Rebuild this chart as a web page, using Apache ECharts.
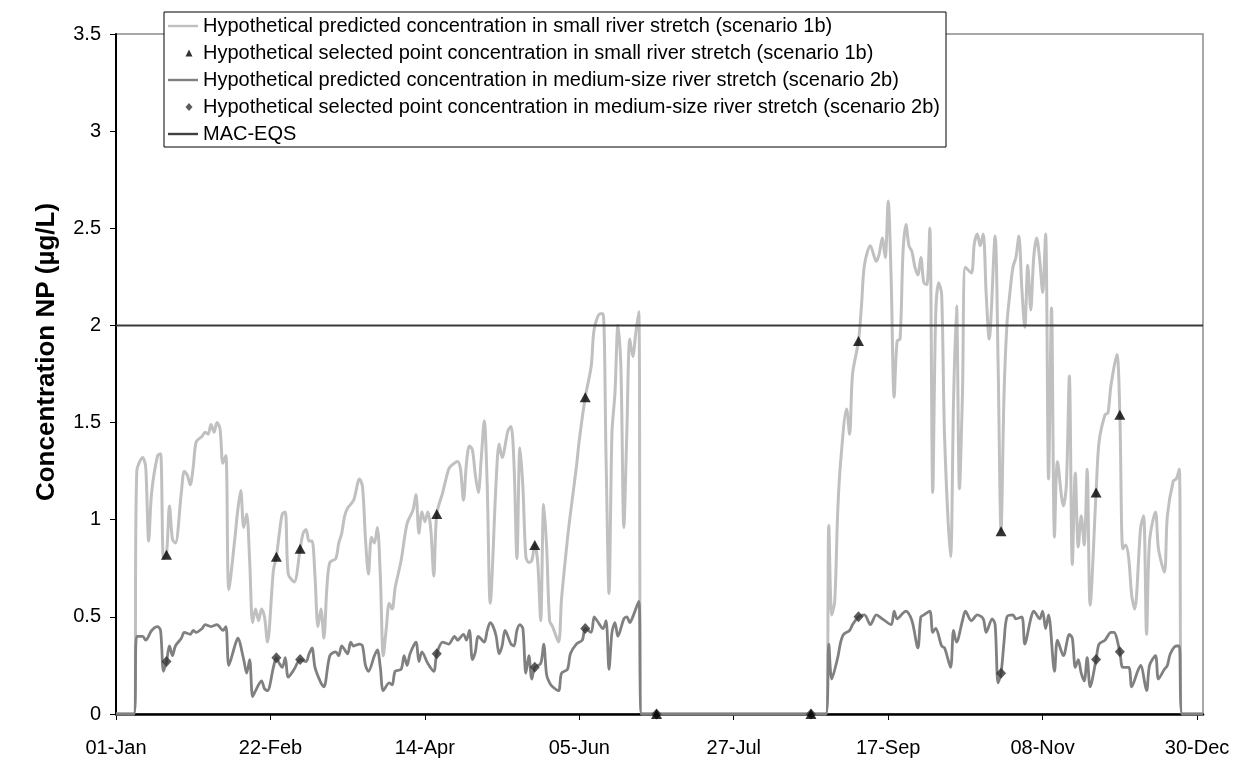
<!DOCTYPE html>
<html>
<head>
<meta charset="utf-8">
<script src="https://cdn.jsdelivr.net/npm/echarts@6.0.0/dist/echarts.min.js"></script>
<style>
  html, body { margin: 0; padding: 0; background: #fff; }
  #chart { width: 1246px; height: 763px; }
</style>
</head>
<body>
<div id="chart"></div>
<script>
// x = day of year (0 = 01-Jan)
const tickDays = [0, 52, 104, 156, 208, 260, 312, 364]
const tickLabels = ['01-Jan', '22-Feb', '14-Apr', '05-Jun', '27-Jul', '17-Sep', '08-Nov', '30-Dec']

// small river stretch (scenario 1b)
const smallDays = [0, 6, 7, 9, 10, 11, 12, 14, 15, 16, 17, 18, 19, 20, 22, 23, 24, 25, 26, 27, 29, 30, 31, 32, 33, 34, 35, 36, 37, 38,
  40, 41, 42, 43, 44, 45, 46, 47, 48, 49, 50, 51, 53, 54, 55, 56, 57, 58, 60, 62, 63, 64, 65, 66, 67, 68, 69, 70, 71, 72,
  74, 75, 76, 77, 78, 80, 82, 83, 84, 85, 86, 87, 88, 89, 90, 91, 92, 93, 94, 96, 98, 100, 101, 102, 103, 104, 105, 106, 107, 108,
  110, 112, 113, 115, 116, 117, 118, 119, 120, 121, 122, 123, 124, 125, 126, 128, 129, 130, 132, 133, 134, 135, 136, 137, 138, 139, 140, 141, 142, 143,
  144, 145, 146, 147, 149, 150, 152, 153, 155, 156, 158, 160, 161, 163, 164, 165, 166, 167, 168, 169, 170, 171, 172, 173, 174, 175, 176, 177, 239, 240,
  241, 242, 243, 244, 246, 247, 248, 250, 251, 252, 254, 256, 257, 258, 259, 260, 261, 262, 263, 264, 265, 266, 267, 268, 269, 270, 271, 272, 273, 274,
  275, 276, 277, 278, 279, 281, 282, 283, 284, 285, 286, 288, 289, 290, 291, 292, 293, 294, 296, 297, 298, 299, 300, 301, 302, 303, 304, 305, 306, 307,
  308, 309, 310, 311, 312, 313, 314, 315, 316, 317, 319, 320, 321, 322, 323, 324, 325, 326, 327, 328, 330, 331, 333, 334, 335, 337, 338, 339, 340, 341,
  342, 343, 345, 346, 347, 348, 350, 351, 353, 354, 356, 357, 358, 359, 366]
const smallConc = [0, 0, 1.25, 1.32, 1.27, 0.89, 1.14, 1.33, 1.34, 0.80, 0.82, 1.07, 0.90, 0.88, 1.14, 1.25, 1.23, 1.18, 1.27, 1.40, 1.43, 1.45, 1.44, 1.49, 1.45, 1.50, 1.47, 1.29, 1.33, 0.64,
  0.90, 1.05, 1.15, 0.96, 1.03, 0.79, 0.47, 0.54, 0.48, 0.54, 0.50, 0.37, 0.74, 0.81, 0.93, 1.03, 1.04, 0.72, 0.68, 0.85, 0.93, 0.95, 0.89, 0.89, 0.71, 0.45, 0.54, 0.39, 0.65, 0.78,
  0.80, 0.88, 0.93, 1.02, 1.06, 1.10, 1.21, 1.17, 0.90, 0.72, 0.91, 0.88, 0.96, 0.71, 0.30, 0.44, 0.57, 0.54, 0.65, 0.79, 0.98, 1.05, 1.13, 0.93, 1.04, 0.99, 1.04, 0.95, 0.71, 1.03,
  1.14, 1.26, 1.28, 1.30, 1.26, 1.10, 1.29, 1.38, 1.36, 1.23, 1.14, 1.32, 1.51, 1.17, 0.57, 1.20, 1.39, 1.32, 1.46, 1.48, 1.29, 0.80, 1.37, 1.17, 0.81, 0.78, 0.79, 0.87, 0.78, 0.48,
  1.08, 0.86, 0.48, 0.45, 0.37, 0.59, 0.90, 1.03, 1.27, 1.41, 1.63, 1.79, 1.98, 2.06, 2.06, 1.32, 0.62, 1.45, 1.65, 2.00, 1.79, 0.96, 1.45, 1.93, 1.84, 1.96, 2.07, 0, 0, 0.97,
  0.51, 0.58, 1.04, 1.30, 1.57, 1.44, 1.75, 1.92, 2.10, 2.31, 2.41, 2.33, 2.37, 2.45, 2.35, 2.64, 2.24, 1.63, 1.92, 1.93, 2.38, 2.52, 2.41, 2.38, 2.30, 2.26, 2.35, 2.22, 2.21, 2.50,
  1.14, 2.06, 2.22, 2.16, 1.42, 0.81, 1.61, 2.10, 1.16, 1.64, 2.30, 2.27, 2.42, 2.47, 2.41, 2.47, 2.16, 1.93, 2.46, 1.81, 0.94, 1.64, 2.01, 2.17, 2.30, 2.35, 2.46, 2.19, 1.99, 2.31,
  2.08, 2.35, 2.45, 2.34, 2.17, 2.47, 1.21, 2.09, 0.91, 1.30, 1.07, 1.18, 1.74, 0.77, 1.24, 0.86, 1.02, 0.87, 1.26, 0.56, 1.14, 1.40, 1.54, 1.55, 1.69, 1.85, 1.54, 0.85, 0.87, 0.80,
  0.61, 0.54, 0.96, 1.02, 0.41, 0.89, 1.04, 0.85, 0.73, 1.02, 1.20, 1.21, 1.26, 0, 0]

// medium-size river stretch (scenario 2b)
const mediumDays = [0, 6, 7, 9, 10, 12, 14, 15, 16, 17, 18, 19, 20, 22, 23, 25, 26, 27, 29, 30, 32, 34, 36, 37, 38, 40, 41, 43, 44, 45,
  46, 47, 49, 50, 51, 53, 54, 55, 56, 57, 58, 60, 62, 64, 65, 66, 67, 69, 70, 72, 74, 75, 76, 78, 79, 80, 82, 83, 84, 85,
  87, 88, 89, 90, 92, 93, 94, 96, 97, 98, 99, 101, 102, 103, 105, 107, 108, 110, 112, 114, 115, 117, 118, 119, 120, 121, 122, 124, 125, 126,
  127, 128, 129, 130, 131, 133, 134, 135, 136, 137, 138, 139, 140, 141, 143, 144, 145, 146, 147, 149, 150, 152, 153, 155, 157, 158, 160, 161, 162, 164,
  165, 166, 167, 168, 169, 171, 172, 173, 174, 176, 177, 239, 240, 241, 243, 244, 245, 247, 248, 250, 252, 254, 256, 258, 261, 262, 263, 265, 266, 268,
  270, 271, 272, 274, 275, 276, 278, 279, 281, 282, 283, 285, 286, 288, 290, 292, 293, 295, 296, 297, 298, 299, 300, 302, 303, 305, 306, 308, 309, 311,
  312, 313, 314, 316, 317, 319, 321, 322, 323, 324, 325, 326, 327, 328, 330, 331, 333, 335, 336, 338, 339, 341, 342, 344, 345, 347, 348, 350, 351, 353,
  354, 355, 357, 358, 359, 366]
const mediumConc = [0, 0, 0.40, 0.40, 0.38, 0.43, 0.45, 0.43, 0.22, 0.27, 0.35, 0.30, 0.35, 0.39, 0.42, 0.41, 0.43, 0.42, 0.44, 0.46, 0.45, 0.46, 0.43, 0.45, 0.25, 0.35, 0.39, 0.28, 0.21, 0.28,
  0.09, 0.12, 0.17, 0.13, 0.12, 0.24, 0.29, 0.26, 0.24, 0.29, 0.19, 0.23, 0.28, 0.27, 0.31, 0.34, 0.24, 0.16, 0.14, 0.30, 0.32, 0.30, 0.35, 0.31, 0.37, 0.35, 0.36, 0.35, 0.25, 0.22,
  0.30, 0.33, 0.24, 0.12, 0.16, 0.15, 0.22, 0.23, 0.30, 0.25, 0.31, 0.37, 0.27, 0.32, 0.26, 0.22, 0.31, 0.37, 0.36, 0.40, 0.38, 0.41, 0.38, 0.43, 0.28, 0.32, 0.40, 0.37, 0.43, 0.47,
  0.45, 0.40, 0.31, 0.35, 0.43, 0.36, 0.35, 0.43, 0.46, 0.44, 0.21, 0.30, 0.18, 0.24, 0.26, 0.36, 0.20, 0.16, 0.14, 0.12, 0.21, 0.23, 0.31, 0.36, 0.38, 0.44, 0.42, 0.50, 0.48, 0.44,
  0.48, 0.23, 0.42, 0.47, 0.40, 0.49, 0.50, 0.47, 0.50, 0.58, 0, 0, 0.36, 0.18, 0.29, 0.37, 0.41, 0.43, 0.46, 0.50, 0.51, 0.46, 0.51, 0.49, 0.46, 0.53, 0.49, 0.52, 0.53, 0.48,
  0.34, 0.50, 0.51, 0.53, 0.42, 0.44, 0.35, 0.34, 0.24, 0.43, 0.37, 0.48, 0.53, 0.48, 0.51, 0.49, 0.42, 0.49, 0.46, 0.16, 0.21, 0.37, 0.50, 0.51, 0.49, 0.50, 0.36, 0.49, 0.53, 0.49,
  0.53, 0.44, 0.51, 0.22, 0.38, 0.30, 0.41, 0.39, 0.24, 0.28, 0.21, 0.17, 0.29, 0.14, 0.28, 0.36, 0.38, 0.42, 0.42, 0.32, 0.24, 0.24, 0.14, 0.22, 0.25, 0.12, 0.25, 0.30, 0.18, 0.23,
  0.25, 0.31, 0.35, 0.35, 0, 0]

// selected points
const pointDays = [17, 54, 62, 108, 141, 158, 182, 234, 250, 298, 330, 338]
const smallPoints = [0.82, 0.81, 0.85, 1.03, 0.87, 1.63, 0, 0, 1.92, 0.94, 1.14, 1.54]
const mediumPoints = [0.27, 0.29, 0.28, 0.31, 0.24, 0.44, 0, 0, 0.50, 0.21, 0.28, 0.32]

const macEqs = 2

const names = [
  'Hypothetical predicted concentration in small river stretch (scenario 1b)',
  'Hypothetical selected point concentration in small river stretch (scenario 1b)',
  'Hypothetical predicted concentration in medium-size river stretch (scenario 2b)',
  'Hypothetical selected point concentration in medium-size river stretch (scenario 2b)',
  'MAC-EQS'
]

const pairs = (xs, ys) => xs.map((x, i) => [x, ys[i]])

const fontFamily = 'Liberation Sans, Arial, sans-serif'
// legend icons, drawn in a 30x18 box
const lineIcon = 'path://M0,0 M30,18 M0,7.8 L30,7.8 L30,10.2 L0,10.2 Z'
const triangleIcon = 'path://M0,0 M30,18 M17.5,12.5 L21,5.5 L24.5,12.5 Z'
const diamondIcon = 'path://M0,0 M30,18 M21,5 L24.5,9 L21,13 L17.5,9 Z'

const option = {
  animation: false,
  backgroundColor: '#fff',
  textStyle: { fontFamily: fontFamily },
  grid: {
    left: 116,
    right: 43,
    top: 34,
    bottom: 49,
    show: true,
    borderColor: '#8c8c8c',
    borderWidth: 1.5,
    outerBoundsMode: 'none'
  },
  legend: {
    orient: 'vertical',
    left: 164,
    top: 12,
    selectedMode: false,
    itemWidth: 30,
    itemHeight: 18,
    itemGap: 7,
    padding: [4, 6, 3, 4],
    borderColor: '#000',
    borderWidth: 1,
    backgroundColor: '#fff',
    textStyle: { fontSize: 20, lineHeight: 20, color: '#000', fontFamily: fontFamily },
    data: [
      { name: names[0], icon: lineIcon, itemStyle: { color: '#c0c0c0', borderWidth: 0 } },
      { name: names[1], icon: triangleIcon, itemStyle: { color: '#000', borderWidth: 0 } },
      { name: names[2], icon: lineIcon, itemStyle: { color: '#808080', borderWidth: 0 } },
      { name: names[3], icon: diamondIcon, itemStyle: { color: '#333', borderWidth: 0 } },
      { name: names[4], icon: lineIcon, itemStyle: { color: '#404040', borderWidth: 0 } }
    ]
  },
  xAxis: {
    type: 'value',
    min: 0,
    max: 366,
    axisLine: { show: true, onZero: false, lineStyle: { color: '#000', width: 2.5 } },
    axisTick: { show: true, customValues: tickDays, length: 6, lineStyle: { color: '#000', width: 1 } },
    axisLabel: {
      customValues: tickDays,
      margin: 24,
      fontSize: 20,
      color: '#000',
      formatter: function (val) {
        return tickLabels[tickDays.indexOf(val)]
      }
    },
    splitLine: { show: false }
  },
  yAxis: {
    type: 'value',
    min: 0,
    max: 3.5,
    interval: 0.5,
    name: 'Concentration NP (\u00b5g/L)',
    nameLocation: 'middle',
    nameGap: 56,
    // left padding moves the rotated title up a little, as in the original
    nameTextStyle: { fontSize: 26, fontWeight: 'bold', color: '#000', padding: [0, 0, 0, 44] },
    axisLine: { show: true, onZero: false, lineStyle: { color: '#000', width: 2 } },
    axisTick: { show: true, length: 6, lineStyle: { color: '#000', width: 1 } },
    axisLabel: { margin: 15, fontSize: 20, color: '#000' },
    splitLine: { show: false }
  },
  series: [
    {
      name: names[0],
      type: 'line',
      data: pairs(smallDays, smallConc),
      showSymbol: false,
      smooth: 0.3,
      lineStyle: { color: '#c0c0c0', width: 3 },
      itemStyle: { color: '#c0c0c0' },
      z: 2
    },
    {
      name: names[2],
      type: 'line',
      data: pairs(mediumDays, mediumConc),
      showSymbol: false,
      smooth: 0.3,
      lineStyle: { color: '#808080', width: 2.8 },
      itemStyle: { color: '#808080' },
      z: 3
    },
    {
      name: names[4],
      type: 'line',
      data: [[0, macEqs], [366, macEqs]],
      showSymbol: false,
      lineStyle: { color: '#3a3a3a', width: 2 },
      itemStyle: { color: '#3a3a3a' },
      z: 4
    },
    {
      name: names[3],
      type: 'scatter',
      data: pairs(pointDays, mediumPoints),
      symbol: 'diamond',
      symbolSize: [10, 11],
      itemStyle: { color: '#333' },
      z: 5
    },
    {
      name: names[1],
      type: 'scatter',
      data: pairs(pointDays, smallPoints),
      symbol: 'triangle',
      symbolSize: [11, 10],
      itemStyle: { color: '#000' },
      z: 6
    }
  ]
}

const chart = echarts.init(document.getElementById('chart'), null, { renderer: 'canvas' })
chart.setOption(option)
</script>
</body>
</html>
